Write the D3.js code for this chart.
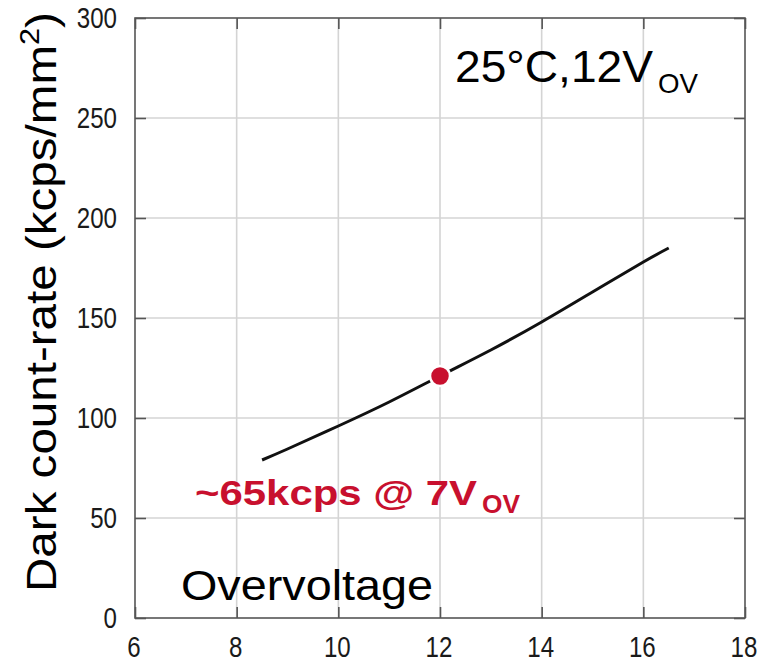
<!DOCTYPE html>
<html>
  <head>
    <title>Dark count-rate vs overvoltage</title>
    <style>
body {
  margin: 0px;
  overflow: hidden;
  background: #fff;
}
text {
  font-family: 'Liberation Sans', Arial, sans-serif;
}
.tick-label {
  font-size: 29px;
  fill: #1a1a1a;
}
.grid line {
  stroke: #d4d4d4;
  stroke-width: 1.6;
}
    </style>
    <script src="https://d3js.org/d3.v7.min.js"></script>
  </head>
  <body>
    <svg width="766" height="667"></svg>
    <script>

// values
const overvoltage = [8.5, 9, 10, 11, 12, 13, 14, 15, 16, 16.5];
const darkCount = [79, 84.5, 96, 108, 121, 134, 148, 163, 178, 185];
const markerX = [12];
const markerY = [121];
const xTicks = [6, 8, 10, 12, 14, 16, 18];
const yTicks = [0, 50, 100, 150, 200, 250, 300];

const svg = d3.select('svg');
const red = '#c8102e';

const margin = { top: 18, right: 21, bottom: 49, left: 135 };
const width = +svg.attr('width');
const height = +svg.attr('height');
const innerWidth = width - margin.left - margin.right;
const innerHeight = height - margin.top - margin.bottom;

const xScale = d3.scaleLinear().domain([6, 18]).range([0, innerWidth]);
const yScale = d3.scaleLinear().domain([0, 300]).range([innerHeight, 0]);

const g = svg.append('g')
  .attr('transform', `translate(${margin.left},${margin.top})`);

// grid
const grid = g.append('g').attr('class', 'grid');
grid.selectAll('.gx').data(xTicks.slice(1, -1)).enter().append('line')
  .attr('x1', d => xScale(d)).attr('x2', d => xScale(d))
  .attr('y1', 0).attr('y2', innerHeight);
grid.selectAll('.gy').data(yTicks.slice(1, -1)).enter().append('line')
  .attr('y1', d => yScale(d)).attr('y2', d => yScale(d))
  .attr('x1', 0).attr('x2', innerWidth);

// inward ticks on all four sides
const tickLen = 11;
const axisColor = '#555';
[d3.axisBottom(xScale), d3.axisTop(xScale)].forEach((ax, i) => {
  const a = g.append('g')
    .attr('transform', i === 0 ? `translate(0,${innerHeight})` : 'translate(0,0)')
    .call(ax.tickValues(xTicks).tickFormat('').tickSizeInner(-tickLen).tickSizeOuter(0));
  a.select('.domain').remove();
  a.selectAll('line').attr('stroke', axisColor).attr('stroke-width', 1.6);
});
[d3.axisLeft(yScale), d3.axisRight(yScale)].forEach((ax, i) => {
  const a = g.append('g')
    .attr('transform', i === 0 ? 'translate(0,0)' : `translate(${innerWidth},0)`)
    .call(ax.tickValues(yTicks).tickFormat('').tickSizeInner(-tickLen).tickSizeOuter(0));
  a.select('.domain').remove();
  a.selectAll('line').attr('stroke', axisColor).attr('stroke-width', 1.6);
});

// frame
g.append('rect')
  .attr('width', innerWidth)
  .attr('height', innerHeight)
  .attr('fill', 'none')
  .attr('stroke', axisColor)
  .attr('stroke-width', 1.6);

// tick labels, narrow digits
const digitW = 13.4;
g.selectAll('.ylab').data(yTicks).enter().append('text')
  .attr('class', 'tick-label')
  .attr('text-anchor', 'end')
  .attr('x', -18)
  .attr('y', d => yScale(d))
  .attr('dy', '0.36em')
  .attr('textLength', d => String(d).length * digitW)
  .attr('lengthAdjust', 'spacingAndGlyphs')
  .text(d => d);

g.selectAll('.xlab').data(xTicks).enter().append('text')
  .attr('class', 'tick-label')
  .attr('text-anchor', 'middle')
  .attr('x', d => xScale(d) - 1)
  .attr('y', innerHeight + 39)
  .attr('textLength', d => String(d).length * digitW)
  .attr('lengthAdjust', 'spacingAndGlyphs')
  .text(d => d);

// curve
const pts = overvoltage.map((v, i) => [v, darkCount[i]]);
const line = d3.line()
  .x(d => xScale(d[0]))
  .y(d => yScale(d[1]))
  .curve(d3.curveNatural);

g.append('path')
  .datum(pts)
  .attr('d', line)
  .attr('fill', 'none')
  .attr('stroke', '#111')
  .attr('stroke-width', 3);

g.selectAll('.marker').data(markerX).enter().append('circle')
  .attr('cx', d => xScale(d))
  .attr('cy', (d, i) => yScale(markerY[i]))
  .attr('r', 10)
  .attr('fill', red)
  .attr('stroke', '#fff')
  .attr('stroke-width', 2.5);

// plain text with fixed width
function label(parent, x, y, str, size, len, opts = {}) {
  return parent.append('text')
    .attr('x', x)
    .attr('y', y)
    .attr('font-size', size)
    .attr('font-weight', opts.weight || 'normal')
    .attr('fill', opts.fill || '#000')
    .attr('textLength', len)
    .attr('lengthAdjust', 'spacingAndGlyphs')
    .text(str);
}

// y axis title, rotated
const yt = svg.append('g').attr('transform', 'translate(56,592) rotate(-90)');
label(yt, 0, 0, 'Dark count-rate (kcps/mm', 42, 547);
label(yt, 547, -17, '2', 27, 17);
label(yt, 564, 0, ')', 42, 16);

label(svg, 181, 600, 'Overvoltage', 42, 252);

label(svg, 455, 82, '25°C,12V', 45, 198);
label(svg, 658, 93, 'OV', 28, 40);

label(svg, 195, 505, '~65kcps @ 7V', 35, 282, { weight: 'bold', fill: red });
label(svg, 482, 513, 'OV', 25, 38, { weight: 'bold', fill: red });

    </script>
  </body>
</html>
